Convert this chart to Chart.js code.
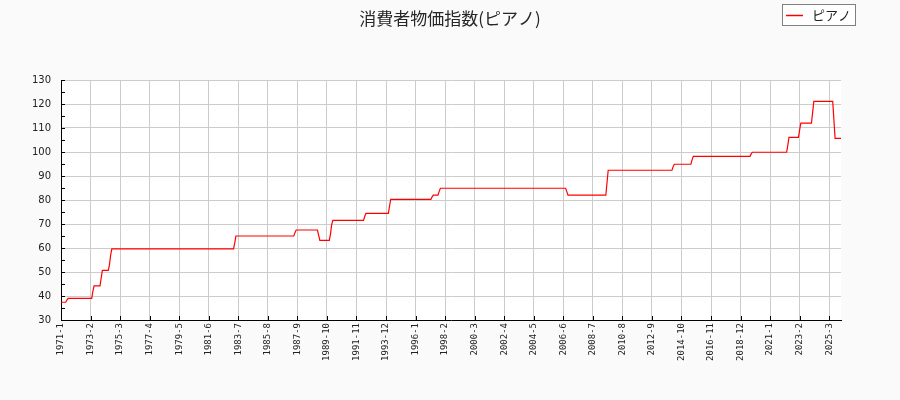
<!DOCTYPE html>
<html>
<head>
<meta charset="utf-8">
<script src="https://cdn.jsdelivr.net/npm/chart.js@4.4.1/dist/chart.umd.min.js"></script>
<style>
  html, body { margin: 0; padding: 0; background: #fafafa; }
  #wrap { width: 900px; height: 400px; }
</style>
</head>
<body>
<div id="wrap"><canvas id="c" width="900" height="400"></canvas></div>
<script>
// Month (YYYY-M) at each point where the monthly index starts/ends a level
const months = [
  '1971-1','1971-5','1971-6','1971-7','1973-3','1973-4','1973-5','1973-10','1973-11','1973-12',
  '1974-5','1974-6','1974-7','1974-8','1983-3','1983-4','1983-5','1987-6','1987-7','1987-8',
  '1989-2','1989-3','1989-4','1989-12','1990-1','1990-2','1990-3','1992-5','1992-6','1992-7',
  '1994-2','1994-3','1994-4','1997-2','1997-3','1997-4','1997-8','1997-9','1997-10','2006-8',
  '2006-9','2006-10','2009-6','2009-7','2009-8','2014-2','2014-3','2014-4','2015-6','2015-7',
  '2015-8','2019-8','2019-9','2019-10','2022-3','2022-4','2022-5','2023-1','2023-2','2023-3',
  '2023-12','2024-1','2024-2','2025-6','2025-7','2025-8','2026-1'
];
// Index values (ピアノ) at those months
const values = [
  37.4, 37.4, 38.3, 39.0, 39.0, 42.0, 44.2, 44.2, 47.5, 50.7,
  50.7, 53.0, 57.0, 59.6, 59.6, 62.0, 65.0, 65.0, 66.4, 67.5,
  67.5, 65.4, 63.2, 63.2, 65.7, 69.6, 71.5, 71.5, 73.1, 74.4,
  74.4, 77.5, 80.3, 80.3, 81.3, 82.0, 82.0, 83.6, 84.9, 84.9,
  83.5, 82.0, 82.0, 87.2, 92.4, 92.4, 94.0, 94.9, 94.9, 96.7,
  98.2, 98.2, 99.2, 99.9, 99.9, 102.9, 106.1, 106.1, 109.2, 112.0,
  112.0, 116.5, 121.1, 121.1, 113.3, 105.7, 105.7
];
// X tick labels (every 25 months from 1971-1)
const tickLabels = [
  '1971-1','1973-2','1975-3','1977-4','1979-5','1981-6','1983-7','1985-8','1987-9',
  '1989-10','1991-11','1993-12','1996-1','1998-2','2000-3','2002-4','2004-5','2006-6',
  '2008-7','2010-8','2012-9','2014-10','2016-11','2018-12','2021-1','2023-2','2025-3'
];
const seriesName = 'ピアノ';
const titleText = '消費者物価指数(ピアノ)';

const monthIndex = s => { const [y, m] = s.split('-').map(Number); return (y - 1971) * 12 + (m - 1); };
const points = months.map((m, i) => ({ x: monthIndex(m), y: values[i] }));
const xMax = monthIndex(months[months.length - 1]);

const bgPlugin = {
  id: 'bg',
  beforeDraw(chart) {
    const { ctx, chartArea: a } = chart;
    ctx.save();
    ctx.fillStyle = '#fafafa';
    ctx.fillRect(0, 0, chart.width, chart.height);
    ctx.fillStyle = '#ffffff';
    ctx.fillRect(a.left, a.top, a.right - a.left, a.bottom - a.top);
    ctx.restore();
  }
};

const tickMarks = {
  id: 'tickMarks',
  afterDraw(chart) {
    const { ctx, chartArea: a, scales } = chart;
    ctx.save();
    ctx.strokeStyle = '#000';
    ctx.lineWidth = 1;
    ctx.beginPath();
    scales.x.ticks.forEach(t => {
      const px = Math.round(scales.x.getPixelForValue(t.value)) + 0.5;
      ctx.moveTo(px, a.bottom); ctx.lineTo(px, a.bottom - 4);
    });
    scales.y.ticks.forEach(t => {
      const py = Math.round(scales.y.getPixelForValue(t.value)) + 0.5;
      ctx.moveTo(a.left, py); ctx.lineTo(a.left + 4, py);
    });
    ctx.stroke();
    ctx.restore();
  }
};

const titleAndLegend = {
  id: 'titleAndLegend',
  afterDraw(chart) {
    const { ctx } = chart;
    const ds = chart.data.datasets[0];
    ctx.save();
    // title, centred on the figure
    ctx.fillStyle = '#262626';
    ctx.font = '17px "Noto Sans CJK JP"';
    ctx.textAlign = 'center';
    ctx.textBaseline = 'middle';
    ctx.fillText(titleText, chart.width / 2, 18.5);
    // legend box
    ctx.textAlign = 'left';
    ctx.fillStyle = '#ffffff';
    ctx.fillRect(782, 4, 74, 22);
    ctx.strokeStyle = '#808080';
    ctx.lineWidth = 1;
    ctx.strokeRect(782.5, 4.5, 73, 21);
    ctx.strokeStyle = ds.borderColor;
    ctx.lineWidth = 1.5;
    ctx.beginPath();
    ctx.moveTo(786, 15.5); ctx.lineTo(803, 15.5);
    ctx.stroke();
    ctx.fillStyle = '#222';
    ctx.font = '13px "Noto Sans CJK JP"';
    ctx.fillText(ds.label, 812, 15.5);
    ctx.restore();
  }
};

new Chart(document.getElementById('c'), {
  type: 'line',
  data: {
    datasets: [{
      label: seriesName,
      data: points,
      borderColor: '#ff0000',
      borderWidth: 1.2,
      pointRadius: 0,
      tension: 0,
      fill: false
    }]
  },
  options: {
    responsive: false,
    animation: false,
    devicePixelRatio: 1,
    layout: { padding: { left: 0, right: 59, top: 80, bottom: 0 } },
    plugins: {
      legend: { display: false },
      tooltip: { enabled: false },
      title: { display: false }
    },
    scales: {
      x: {
        type: 'linear',
        min: 0,
        max: xMax,
        afterBuildTicks: s => { s.ticks = s.ticks.filter(t => t.value % 25 === 0); },
        afterFit: s => { s.height = 80; },
        ticks: {
          stepSize: 25,
          autoSkip: false,
          maxRotation: 90,
          minRotation: 90,
          padding: 3,
          color: '#222',
          font: { family: '"DejaVu Sans Mono"', size: 9 },
          callback: v => tickLabels[v / 25]
        },
        grid: { color: '#cccccc', lineWidth: 1, drawTicks: false },
        border: { display: true, color: '#000', width: 1 }
      },
      y: {
        min: 30,
        max: 130,
        afterFit: s => { s.width = 61; },
        ticks: {
          stepSize: 5,
          autoSkip: false,
          padding: 10,
          color: '#222',
          font: { family: '"DejaVu Sans"', size: 10 },
          callback: v => (v % 10 === 0 ? String(v) : '')
        },
        grid: {
          color: ctx => (ctx.tick && ctx.tick.value % 10 === 0 ? '#cccccc' : 'rgba(0,0,0,0)'),
          lineWidth: 1,
          drawTicks: false
        },
        border: { display: true, color: '#000', width: 1 }
      }
    }
  },
  plugins: [bgPlugin, tickMarks, titleAndLegend]
});
</script>
</body>
</html>
